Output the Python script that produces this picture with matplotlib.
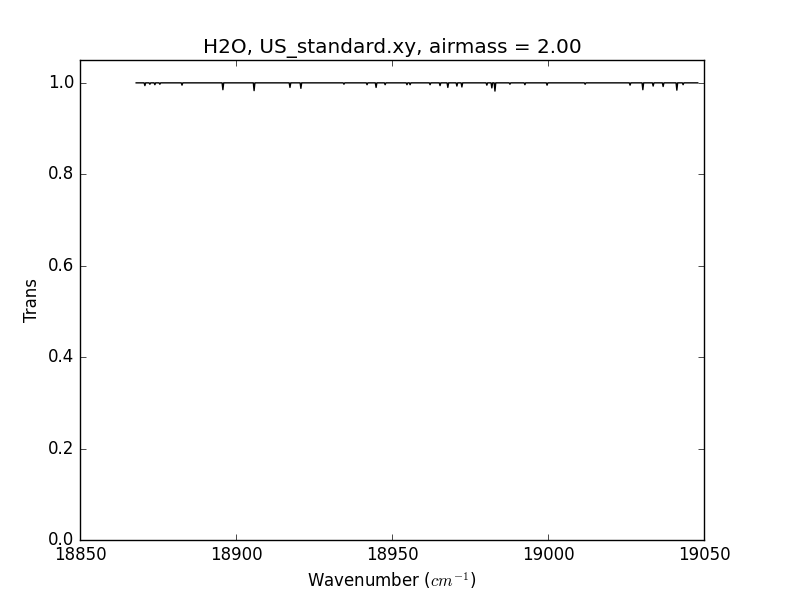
import matplotlib
matplotlib.use("Agg")
import matplotlib.pyplot as plt
import numpy as np

plt.style.use("classic")

# Spectrum range and baseline
wn_start = 18868.0
wn_end = 19048.0
baseline = 1.0

# Absorption line centers (cm^-1) and depths
line_centers = [18870.8, 18872.4, 18874.0, 18875.6, 18882.7, 18895.8, 18905.8,
                18917.3, 18920.8, 18934.6, 18942.0, 18944.9, 18947.8, 18954.8, 18955.8,
                18962.2, 18965.4, 18967.9, 18970.8, 18972.4, 18980.4, 18982.0, 18983.0,
                18987.8, 18992.6, 18999.7, 19011.9, 19026.3, 19030.4, 19033.7, 19036.9,
                19041.3, 19043.3]
line_depths = [0.006, 0.003, 0.004, 0.003, 0.005, 0.015, 0.017,
               0.010, 0.012, 0.003, 0.004, 0.010, 0.004, 0.004, 0.004,
               0.004, 0.006, 0.010, 0.007, 0.009, 0.005, 0.011, 0.018,
               0.003, 0.004, 0.005, 0.003, 0.005, 0.015, 0.007, 0.008,
               0.016, 0.004]

# Build polyline: flat baseline with narrow dips at each line
half_width = 0.25
xs = [wn_start]
ys = [baseline]
for c, d in zip(line_centers, line_depths):
    xs += [c - half_width, c, c + half_width]
    ys += [baseline, baseline - d, baseline]
xs.append(wn_end)
ys.append(baseline)

fig = plt.figure(figsize=(8, 6), dpi=100)
ax = fig.add_subplot(111)
fig.subplots_adjust(left=0.1, right=0.88, bottom=0.1, top=0.9)
ax.plot(xs, ys, color="k", linewidth=1)
ax.set_xlim(18850, 19050)
ax.set_ylim(0, 1.05)
ax.set_xticks([18850, 18900, 18950, 19000, 19050])
ax.set_yticks([0.0, 0.2, 0.4, 0.6, 0.8, 1.0])
ax.set_xlabel(r"Wavenumber ($cm^{-1}$)")
ax.set_ylabel("Trans")
ax.set_title("H2O, US_standard.xy, airmass = 2.00")
fig.savefig("out.png", dpi=100)
